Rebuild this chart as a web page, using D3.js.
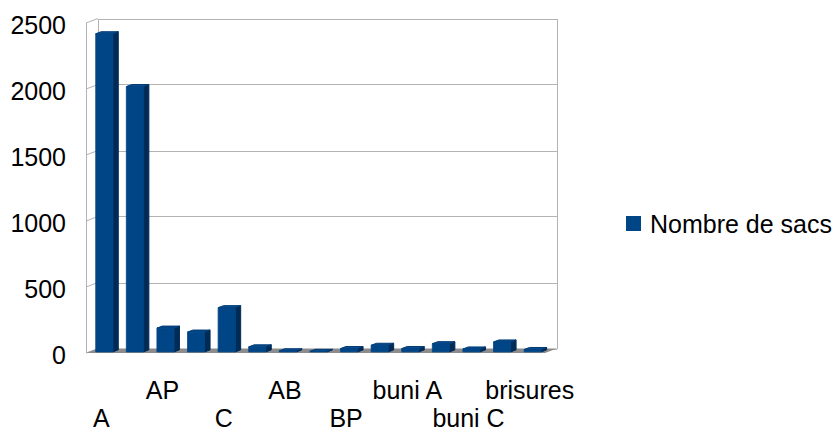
<!DOCTYPE html>
<meta charset="utf-8">
<style>
    body {
        margin: 0;
        background: #fff;
    }

    text {
        font-family: "Liberation Sans", Arial, sans-serif;
        font-size: 25px;
        fill: #000;
    }

    .grid line {
        stroke: #b3b3b3;
        stroke-width: 1;
        shape-rendering: crispEdges;
    }
</style>

<body>
    <script src="https://d3js.org/d3.v7.min.js"></script>
    <script>

        // categories: only every other label is printed on the chart, the hidden ones are unknown
        var categories = ["A", "", "AP", "", "C", "", "AB", "", "BP", "", "buni A", "", "buni C", "", "brisures"];
        var sacs = [2410, 2010, 180, 150, 335, 38, 8, 4, 25, 50, 25, 62, 22, 75, 18];
        var yTicks = [0, 500, 1000, 1500, 2000, 2500];
        var seriesName = "Nombre de sacs";

        var width = 837, height = 432;

        // depth of the 3d box
        var DX = 12, DY = -4.5;

        var svg = d3.select("body").append("svg")
            .attr("width", width)
            .attr("height", height);

        var x = d3.scaleBand()
            .domain(d3.range(categories.length))
            .range([86, 545]);

        var y = d3.scaleLinear()
            .domain([0, 2500])
            .range([353, 23]);

        function p(px, py, z) {
            return [px + DX * z, py + DY * z];
        }

        function poly(pts) {
            return pts.map(function (q) { return q.join(","); }).join(" ");
        }

        // walls
        var grid = svg.append("g").attr("class", "grid");

        grid.selectAll(".back")
            .data(yTicks)
            .enter().append("line")
            .attr("x1", x.range()[0] + DX)
            .attr("x2", x.range()[1] + DX)
            .attr("y1", d => Math.round(y(d) + DY) + 0.5)
            .attr("y2", d => Math.round(y(d) + DY) + 0.5);

        grid.selectAll(".side")
            .data(yTicks)
            .enter().append("line")
            .style("shape-rendering", "auto")
            .attr("x1", x.range()[0])
            .attr("x2", x.range()[0] + DX)
            .attr("y1", d => y(d))
            .attr("y2", d => y(d) + DY);

        [[x.range()[0], 0], [x.range()[0], 1], [x.range()[1], 1]].forEach(function (e) {
            grid.append("line")
                .attr("x1", Math.round(e[0] + DX * e[1]) + 0.5)
                .attr("x2", Math.round(e[0] + DX * e[1]) + 0.5)
                .attr("y1", y(0) + DY * e[1])
                .attr("y2", y(2500) + DY * e[1]);
        });

        // floor
        svg.append("polygon")
            .attr("points", poly([
                p(x.range()[0], y(0), 0), p(x.range()[1], y(0), 0),
                p(x.range()[1], y(0), 1), p(x.range()[0], y(0), 1)
            ]))
            .attr("fill", "#8c8c8c");

        // bars
        var bw = x.bandwidth() * 0.56, z0 = 0.25, z1 = 0.7;

        var bars = svg.selectAll(".bar")
            .data(sacs)
            .enter().append("g")
            .attr("class", "bar")
            .attr("stroke-linejoin", "round");

        bars.append("polygon")
            .attr("points", function (d, i) {
                var l = x(i) + (x.bandwidth() - bw) / 2, r = l + bw;
                return poly([p(r, y(d), z0), p(r, y(d), z1), p(r, y(0), z1), p(r, y(0), z0)]);
            })
            .attr("fill", "#002b57")
            .attr("stroke", "#002b57")
            .attr("stroke-width", 1);

        bars.append("polygon")
            .attr("points", function (d, i) {
                var l = x(i) + (x.bandwidth() - bw) / 2, r = l + bw;
                return poly([p(l, y(d), z0), p(r, y(d), z0), p(r, y(d), z1), p(l, y(d), z1)]);
            })
            .attr("fill", "#0a4d90")
            .attr("stroke", "#003a73")
            .attr("stroke-width", 1);

        bars.append("polygon")
            .attr("points", function (d, i) {
                var l = x(i) + (x.bandwidth() - bw) / 2, r = l + bw;
                return poly([p(l, y(d), z0), p(r, y(d), z0), p(r, y(0), z0), p(l, y(0), z0)]);
            })
            .attr("fill", "#004586")
            .attr("stroke", "#004586")
            .attr("stroke-width", 0.8);

        // y axis labels
        svg.append("g")
            .attr("transform", "translate(66,2.5)")
            .call(d3.axisLeft(y).tickValues(yTicks).tickFormat(d3.format("d")).tickSize(0).tickPadding(0))
            .call(g => g.select(".domain").remove())
            .selectAll("text")
            .attr("font-size", null)
            .attr("font-family", null);

        // x axis labels, staggered on two rows
        var xa = svg.append("g")
            .attr("transform", "translate(0," + y(0) + ")")
            .call(d3.axisBottom(x).tickFormat(i => categories[i]).tickSize(0))
            .call(g => g.select(".domain").remove());

        xa.selectAll("text")
            .attr("font-size", null)
            .attr("font-family", null)
            .attr("dy", null)
            .attr("y", function (i) { return (i / 2) % 2 == 0 ? 74 : 46; });

        // legend
        var legend = svg.append("g")
            .attr("transform", "translate(626,216)");

        legend.append("rect")
            .attr("width", 15)
            .attr("height", 15)
            .attr("fill", "#004586");

        legend.append("text")
            .attr("x", 24)
            .attr("y", 17)
            .text(seriesName);

    </script>
</body>
